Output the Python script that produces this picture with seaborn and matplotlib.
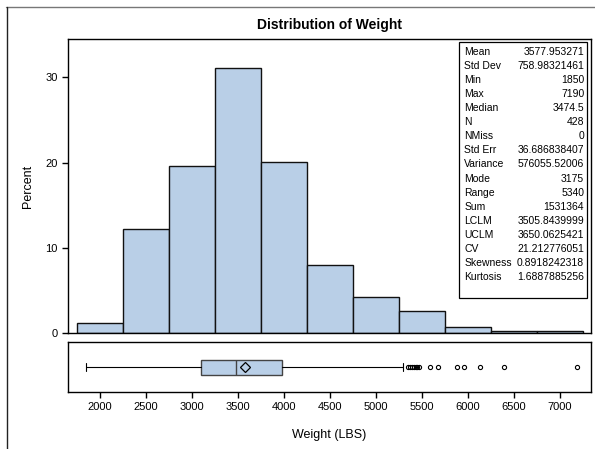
import matplotlib
matplotlib.use("Agg")
import matplotlib.pyplot as plt
import seaborn as sns
from matplotlib.patches import Rectangle
from matplotlib.lines import Line2D

# Histogram data (percent of 428 cars per 500 lb bin)
bin_edges = [1750, 2250, 2750, 3250, 3750, 4250, 4750, 5250, 5750, 6250, 6750, 7250]
bin_percent = [1.17, 12.15, 19.63, 31.07, 20.09, 7.94, 4.21, 2.57, 0.70, 0.23, 0.23]

# Box plot summary
box_q1 = 3100
box_median = 3474.5
box_q3 = 3980
box_mean = 3577.95
whisker_low = 1850
whisker_high = 5290
outliers = [5350, 5370, 5390, 5410, 5430, 5450, 5470, 5587, 5677, 5877, 5960, 6130, 6395, 7190]

# Summary statistics table
stat_names = ["Mean", "Std Dev", "Min", "Max", "Median", "N", "NMiss", "Std Err",
              "Variance", "Mode", "Range", "Sum", "LCLM", "UCLM", "CV",
              "Skewness", "Kurtosis"]
stat_values = ["3577.953271", "758.98321461", "1850", "7190", "3474.5", "428", "0",
               "36.686838407", "576055.52006", "3175", "5340", "1531364",
               "3505.8439999", "3650.0625421", "21.212776051", "0.8918242318",
               "1.6887885256"]

sns.set_style("white")
plt.rcParams["font.family"] = ["Liberation Sans", "DejaVu Sans"]
plt.rcParams["text.color"] = "black"
plt.rcParams["axes.labelcolor"] = "black"
plt.rcParams["xtick.color"] = "black"
plt.rcParams["ytick.color"] = "black"

fill = "#B9CFE7"
W, H = 595, 449
fig = plt.figure(figsize=(W / 100, H / 100), dpi=100)

ax = fig.add_axes([68 / W, 1 - 333 / H, 523 / W, 294 / H])
axb = fig.add_axes([68 / W, 1 - 392 / H, 523 / W, 50 / H], sharex=ax)

centers = [(a + b) / 2 for a, b in zip(bin_edges[:-1], bin_edges[1:])]
sns.histplot(x=centers, weights=bin_percent, bins=bin_edges, ax=ax,
             color=fill, edgecolor="#111111", linewidth=1.0, alpha=1)

ax.set_xlim(1652, 7337)
ax.set_ylim(0, 34.5)
ax.set_yticks([0, 10, 20, 30])
ax.set_ylabel("Percent", fontsize=9, labelpad=8)
ax.set_xlabel("")
ax.tick_params(axis="y", left=True, length=4, width=1, labelsize=8, direction="out")
ax.tick_params(axis="x", bottom=False, labelbottom=False)
for s in ax.spines.values():
    s.set_color("black")
    s.set_linewidth(1.0)
ax.set_title("Distribution of Weight", fontsize=10, fontweight="bold", pad=7)

# statistics box
ax.add_patch(Rectangle((0.747, 0.119), 0.245, 0.871, transform=ax.transAxes,
                       fill=True, facecolor="white", edgecolor="black", lw=0.9, zorder=5))
for i, (n, v) in enumerate(zip(stat_names, stat_values)):
    ypx = 52 + 14.06 * i
    yf = (333 - ypx) / 294
    ax.text(0.758, yf, n, transform=ax.transAxes, fontsize=7.5, va="center", ha="left", zorder=6)
    ax.text(0.987, yf, v, transform=ax.transAxes, fontsize=7.5, va="center", ha="right", zorder=6)

# box plot
stats = [dict(med=box_median, q1=box_q1, q3=box_q3, whislo=whisker_low,
              whishi=whisker_high, mean=box_mean, fliers=outliers)]
axb.bxp(stats, vert=False, widths=0.30, patch_artist=True, showmeans=True,
        boxprops=dict(facecolor=fill, edgecolor="#444444", lw=1.0),
        medianprops=dict(color="#444444", lw=1.0),
        whiskerprops=dict(color="black", lw=0.8),
        capprops=dict(color="black", lw=0.8),
        capwidths=0.15,
        meanprops=dict(marker="D", markerfacecolor="none", markeredgecolor="black",
                       markersize=5.5, markeredgewidth=0.9),
        flierprops=dict(marker="o", markerfacecolor="none", markeredgecolor="black",
                        markersize=3, markeredgewidth=0.8))
axb.set_ylim(0.5, 1.5)
axb.set_yticks([])
axb.set_xticks([2000, 2500, 3000, 3500, 4000, 4500, 5000, 5500, 6000, 6500, 7000])
axb.tick_params(axis="x", bottom=True, labelbottom=True, length=4, width=1,
                labelsize=8, direction="out")
axb.set_xlabel("Weight (LBS)", fontsize=9, labelpad=12)
for s in axb.spines.values():
    s.set_color("black")
    s.set_linewidth(1.0)

# outer frame lines
fig.add_artist(Line2D([6 / W, 1], [1 - 7 / H, 1 - 7 / H], transform=fig.transFigure,
                      color="#777777", lw=1.0))
fig.add_artist(Line2D([6.5 / W, 6.5 / W], [0, 1 - 7 / H], transform=fig.transFigure,
                      color="#222222", lw=1.0))

fig.savefig("out.png", dpi=100)
